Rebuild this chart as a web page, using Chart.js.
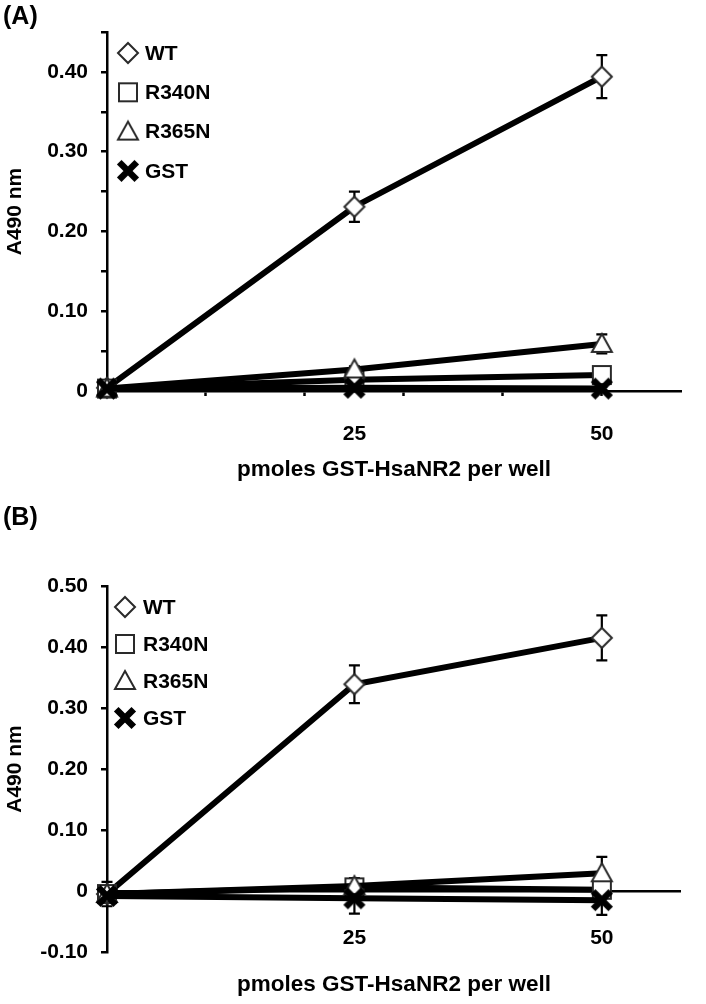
<!DOCTYPE html>
<html><head><meta charset="utf-8">
<script src="https://cdn.jsdelivr.net/npm/chart.js@4.4.0/dist/chart.umd.min.js"></script>
<style>
html,body{margin:0;padding:0;background:#fff;}
body{width:706px;height:1004px;position:relative;overflow:hidden;}
canvas{position:absolute;left:0;}
.tag{position:absolute;left:3px;z-index:2;font:bold 25px "Liberation Sans",Arial,sans-serif;color:#000;line-height:1;}
</style></head><body>
<canvas id="cA" width="706" height="500" style="top:0"></canvas>
<canvas id="cB" width="706" height="504" style="top:500px"></canvas>
<div class="tag" style="top:3px">(A)</div>
<div class="tag" style="top:504px">(B)</div>
<script>
// ---------- data ----------
const seriesNames = ['WT', 'R340N', 'R365N', 'GST'];
const doses = [0, 25, 50];
const xTickValues = [0, 10, 20, 25, 30, 40, 50];
const xLabelValues = [25, 50];
const xTitle = 'pmoles GST-HsaNR2 per well';
const yTitle = 'A490 nm';

// Panel A
const aWT = [0.004, 0.231, 0.394];
const aWTErr = [0.002, 0.019, 0.027];
const aR340N = [0.003, 0.014, 0.020];
const aR340NErr = [0.001, 0.003, 0.004];
const aR365N = [0.003, 0.027, 0.059];
const aR365NErr = [0.001, 0.004, 0.012];
const aGST = [0.003, 0.004, 0.003];
const aGSTErr = [0.001, 0.002, 0.002];
const yTicksA = [0, 0.05, 0.10, 0.15, 0.20, 0.25, 0.30, 0.35, 0.40, 0.45];
const yLabelsA = ['0', '', '0.10', '', '0.20', '', '0.30', '', '0.40', ''];

// Panel B
const bWT = [-0.005, 0.339, 0.415];
const bWTErr = [0.02, 0.031, 0.037];
const bR340N = [-0.005, 0.006, 0.002];
const bR340NErr = [0.01, 0.015, 0.01];
const bR365N = [-0.005, 0.008, 0.029];
const bR365NErr = [0.01, 0.01, 0.027];
const bGST = [-0.008, -0.012, -0.015];
const bGSTErr = [0.01, 0.025, 0.024];
const yTicksB = [-0.10, 0, 0.10, 0.20, 0.30, 0.40, 0.50];
const yLabelsB = ['-0.10', '0', '0.10', '0.20', '0.30', '0.40', '0.50'];

// ---------- markers ----------
function makeMarker(type) {
  const s = 26, m = s / 2;
  const c = document.createElement('canvas');
  c.width = s; c.height = s;
  const g = c.getContext('2d');
  g.beginPath();
  if (type === 'cross') {
    g.strokeStyle = '#000'; g.lineWidth = 6.5; g.lineCap = 'square';
    g.moveTo(m - 6.5, m - 6.5); g.lineTo(m + 6.5, m + 6.5);
    g.moveTo(m + 6.5, m - 6.5); g.lineTo(m - 6.5, m + 6.5);
    g.stroke();
    return c;
  }
  g.lineWidth = 2; g.strokeStyle = '#2a2a2a'; g.fillStyle = '#fff'; g.lineJoin = 'miter';
  if (type === 'diamond') {
    g.moveTo(m, m - 10); g.lineTo(m + 10, m); g.lineTo(m, m + 10); g.lineTo(m - 10, m); g.closePath();
  } else if (type === 'square') {
    g.rect(m - 9, m - 9, 18, 18);
  } else if (type === 'triangle') {
    g.moveTo(m, m - 10); g.lineTo(m + 10, m + 8); g.lineTo(m - 10, m + 8); g.closePath();
  }
  g.fill(); g.stroke();
  return c;
}
const markerImgs = [makeMarker('diamond'), makeMarker('square'), makeMarker('triangle'), makeMarker('cross')];

const FONT = {family: '"Liberation Sans", Arial, sans-serif', size: 21, weight: 'bold'};
const TITLE_FONT = {family: '"Liberation Sans", Arial, sans-serif', size: 22.5, weight: 'bold'};

// ---------- plugins ----------
const errorBarPlugin = {
  id: 'errorBars',
  beforeDatasetsDraw(chart) {
    const ctx = chart.ctx, y = chart.scales.y;
    ctx.save();
    ctx.strokeStyle = '#000'; ctx.lineWidth = 2.2;
    chart.data.datasets.forEach((ds, i) => {
      const meta = chart.getDatasetMeta(i);
      ds.errors.forEach((e, j) => {
        const pt = meta.data[j];
        const v = ds.data[j].y;
        const top = y.getPixelForValue(v + e), bot = y.getPixelForValue(v - e);
        ctx.beginPath();
        ctx.moveTo(pt.x, top); ctx.lineTo(pt.x, bot);
        ctx.moveTo(pt.x - 5.5, top); ctx.lineTo(pt.x + 5.5, top);
        ctx.moveTo(pt.x - 5.5, bot); ctx.lineTo(pt.x + 5.5, bot);
        ctx.stroke();
      });
    });
    ctx.restore();
  }
};
const insideLegendPlugin = {
  id: 'insideLegend',
  afterDraw(chart, args, o) {
    const ctx = chart.ctx;
    ctx.save();
    ctx.font = 'bold 21px "Liberation Sans", Arial, sans-serif';
    ctx.fillStyle = '#000'; ctx.textBaseline = 'middle'; ctx.textAlign = 'left';
    chart.data.datasets.forEach((ds, i) => {
      const cy = o.y0 + i * o.dy;
      const img = ds.pointStyle;
      ctx.drawImage(img, o.mx - img.width / 2, cy - img.height / 2);
      ctx.fillText(ds.label, o.tx, cy + 1);
    });
    ctx.restore();
  }
};

function buildDatasets(vals, errs) {
  return seriesNames.map((name, i) => ({
    label: name,
    data: doses.map((d, j) => ({x: d, y: vals[i][j]})),
    errors: errs[i],
    borderColor: '#000',
    borderWidth: 6,
    tension: 0,
    pointStyle: markerImgs[i],
    pointRadius: 10,
    clip: false,
    order: 3 - i
  }));
}

function makeChart(id, cfg) {
  return new Chart(document.getElementById(id), {
    type: 'line',
    data: {datasets: buildDatasets(cfg.vals, cfg.errs)},
    plugins: [errorBarPlugin, insideLegendPlugin],
    options: {
      responsive: false, animation: false, devicePixelRatio: 1,
      layout: {padding: {top: cfg.top, left: 0, right: 25, bottom: 0}},
      plugins: {legend: {display: false}, tooltip: {enabled: false}, insideLegend: cfg.legend},
      scales: {
        x: {
          type: 'linear', min: 0, max: 58, position: 'bottom',
          afterBuildTicks: s => { s.ticks = xTickValues.map(v => ({value: v})); },
          afterFit: s => { s.height = cfg.xh; },
          border: {display: cfg.xBorder, color: '#000', width: 2.5},
          grid: {
            drawOnChartArea: false, drawTicks: cfg.xTicks, tickLength: 5, tickWidth: 2.5,
            tickColor: c => (c.tick && (c.tick.value === 0 || c.tick.value === 25)) ? 'rgba(0,0,0,0)' : '#000'
          },
          ticks: {
            autoSkip: false, maxRotation: 0, minRotation: 0, mirror: cfg.xMirror,
            padding: cfg.xpad, color: '#000', font: FONT,
            callback: v => xLabelValues.includes(v) ? String(v) : ''
          },
          title: {display: true, text: xTitle, color: '#000', font: TITLE_FONT, padding: {top: 0, bottom: cfg.titlePad}}
        },
        y: {
          type: 'linear', min: cfg.ymin, max: cfg.ymax,
          afterBuildTicks: s => { s.ticks = cfg.yTicks.map(v => ({value: v})); },
          afterFit: s => { s.width = 107; },
          border: {display: true, color: '#000', width: 2.5},
          grid: {
            drawOnChartArea: cfg.zeroLine, drawTicks: true, tickLength: 6, tickWidth: 2.5, tickColor: '#000',
            lineWidth: 2.5,
            color: c => (cfg.zeroLine && c.tick && Math.abs(c.tick.value) < 1e-9) ? '#000' : 'rgba(0,0,0,0)'
          },
          ticks: {
            autoSkip: false, padding: 13, color: '#000', font: FONT,
            callback: (v, i) => cfg.yLabels[i]
          },
          title: {display: true, text: yTitle, color: '#000', font: FONT, padding: {top: 3, bottom: 0}}
        }
      }
    }
  });
}

makeChart('cA', {
  vals: [aWT, aR340N, aR365N, aGST],
  errs: [aWTErr, aR340NErr, aR365NErr, aGSTErr],
  top: 32, xh: 109, xpad: 26, titlePad: 17, xBorder: true, xTicks: true, xMirror: false,
  ymin: 0, ymax: 0.45, yTicks: yTicksA, yLabels: yLabelsA, zeroLine: false,
  legend: {mx: 128, tx: 145, y0: 53, dy: 39.3}
});
makeChart('cB', {
  vals: [bWT, bR340N, bR365N, bGST],
  errs: [bWTErr, bR340NErr, bR365NErr, bGSTErr],
  top: 86, xh: 52, xpad: 1, titlePad: 6, xBorder: false, xTicks: false, xMirror: true,
  ymin: -0.10, ymax: 0.50, yTicks: yTicksB, yLabels: yLabelsB, zeroLine: true,
  legend: {mx: 125, tx: 143, y0: 107, dy: 37}
});
</script>
</body></html>
